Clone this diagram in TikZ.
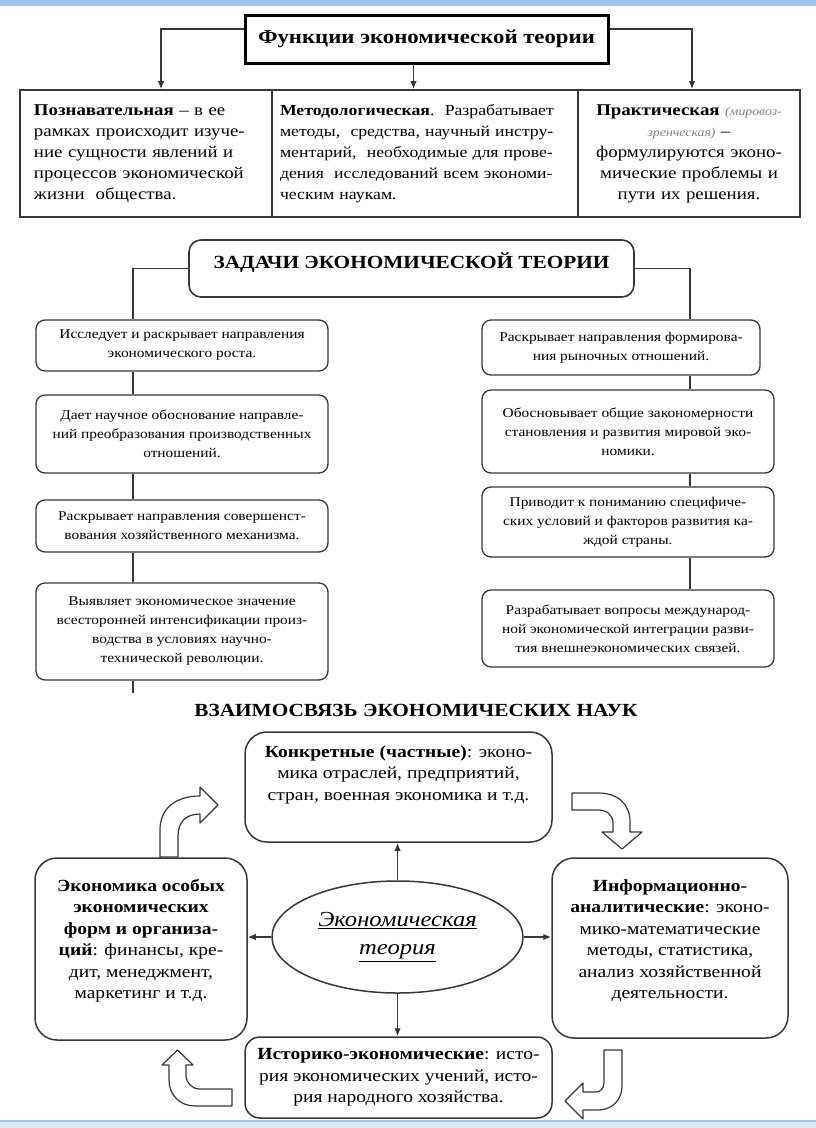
\documentclass[tikz,border=0pt]{standalone}
\usepackage{fontspec}
\setmainfont[FakeStretch=1.15]{Liberation Serif}
\usepackage{tikz}
\usetikzlibrary{shapes,arrows,arrows.meta,positioning,calc}
\definecolor{edgegray}{RGB}{55,55,55}
\definecolor{barblue}{RGB}{158,196,232}
\definecolor{barpale}{RGB}{222,232,243}
\newcommand{\funheadfont}{\fontsize{19.8}{22}\selectfont\bfseries}
\newcommand{\secheadfont}{\fontsize{18.5}{22}\selectfont\bfseries}
\newcommand{\cellfont}{\fontsize{16.4}{21}\selectfont}
\newcommand{\taskfont}{\fontsize{13.4}{19}\selectfont}
\newcommand{\linkfont}{\fontsize{17}{21.5}\selectfont}
\newcommand{\theoryfont}{\fontsize{21.4}{28}\selectfont\itshape}

\begin{document}
\begin{tikzpicture}[x=1pt,y=-1pt,>={Latex[length=8pt,width=6.5pt]},
  cell/.style={draw=edgegray,line width=1.6pt,minimum height=127pt,inner sep=0pt,font=\cellfont},
  task/.style={draw=edgegray,line width=1.3pt,rounded corners=9pt,inner sep=0pt,align=center,font=\taskfont},
  link/.style={draw=edgegray,line width=1.5pt,rounded corners=22pt,inner sep=0pt},
  linktext/.style={anchor=north,inner sep=0pt,align=center,font=\linkfont},
  conn/.style={edgegray,line width=1.4pt},
  blockarrow/.style={draw=edgegray,line width=1.2pt,fill=white,line join=round}]

\useasboundingbox (0,0) rectangle (816,1128);
% window frame
\fill[barblue] (0,0) rectangle (816,6);
\fill[barpale] (0,1121) rectangle (816,1128);
\draw[barblue,line width=1.5pt] (0,1121) -- (816,1121);

% functions of the theory
\node[draw=black,line width=3pt,minimum width=363pt,minimum height=48pt,font=\funheadfont] (fun) at (426.5,39) {Функции экономической теории};
\node[cell,minimum width=252pt,text width=224pt,align=left] (cog) at (146,153.5) {\textbf{Познавательная} – в ее\\рамках происходит изуче-\\ние сущности явлений и\\процессов экономической\\жизни~~общества.};
\node[cell,minimum width=306pt,text width=290pt,align=left,font=\fontsize{15.4}{21}\selectfont] (met) at (425,153.5) {\textbf{Методологическая}.~~Разрабатывает\\методы,~~средства, научный инстру-\\ментарий,~~необходимые для прове-\\дения~~исследований всем экономи-\\ческим наукам.};
\node[cell,minimum width=222pt,text width=206pt,align=center] (prac) at (689,153.5) {\textbf{Практическая} {\itshape\fontsize{12}{14}\selectfont\color{gray}(мировоз-}\\{\itshape\fontsize{12}{14}\selectfont\color{gray}зренческая)} –\\формулируются эконо-\\мические проблемы и\\пути их решения.};
\draw[conn,->] ([yshift=10pt]fun.west) -| ([xshift=15pt]cog.north);
\draw[conn,->] ([xshift=-13pt]fun.south) -- ([xshift=-13pt]fun.south |- met.north);
\draw[conn,->] ([yshift=10pt]fun.east) -| ([xshift=3pt]prac.north);

% tasks of the theory
\node[task,line width=1.6pt,rounded corners=12pt,minimum width=445pt,minimum height=57pt] (tasks) at (411.5,268.5) {};
\node[font=\secheadfont,inner sep=0pt] (taskstitle) at (411.5,263) {ЗАДАЧИ ЭКОНОМИЧЕСКОЙ ТЕОРИИ};
\coordinate (lx) at (133,0);
\coordinate (rx) at (690,0);
\node[task,minimum width=292pt,minimum height=51pt] (l1) at (182,345.5) {Исследует и раскрывает направления\\экономического роста.};
\node[task,minimum width=292pt,minimum height=78pt] (l2) at (182,434) {Дает научное обоснование направле-\\ний преобразования производственных\\отношений.};
\node[task,minimum width=292pt,minimum height=52pt] (l3) at (182,526) {Раскрывает направления совершенст-\\вования хозяйственного механизма.};
\node[task,minimum width=292pt,minimum height=97pt] (l4) at (182,631.5) {Выявляет экономическое значение\\всесторонней интенсификации произ-\\водства в условиях научно-\\технической революции.};
\node[task,minimum width=278pt,minimum height=55pt] (r1) at (621,347.5) {Раскрывает направления формирова-\\ния рыночных отношений.};
\node[task,minimum width=292pt,minimum height=83pt] (r2) at (628,431.5) {Обосновывает общие закономерности\\становления и развития мировой эко-\\номики.};
\node[task,minimum width=292pt,minimum height=70pt] (r3) at (628,522) {Приводит к пониманию специфиче-\\ских условий и факторов развития ка-\\ждой страны.};
\node[task,minimum width=292pt,minimum height=77pt] (r4) at (628,628.5) {Разрабатывает вопросы международ-\\ной экономической интеграции разви-\\тия внешнеэкономических связей.};
\draw[conn] (tasks.west) -| (lx |- l1.north);
\draw[conn] (tasks.east) -| (rx |- r1.north);
\foreach \a/\b/\c in {l1/l2/lx,l2/l3/lx,l3/l4/lx,r1/r2/rx,r2/r3/rx,r3/r4/rx}
  \draw[conn] (\c |- \a.south) -- (\c |- \b.north);
\coordinate (lend) at (133,693);
\draw[conn] (lx |- l4.south) -- (lend);

% links between the sciences
\node[font=\secheadfont,inner sep=0pt] (linkstitle) at (416,710) {ВЗАИМОСВЯЗЬ ЭКОНОМИЧЕСКИХ НАУК};
\node[link,minimum width=307pt,minimum height=110pt] (conc) at (398.5,787) {};
\node[linktext] (conctext) at (398.5,745) {\textbf{Конкретные (частные)}: эконо-\\мика отраслей, предприятий,\\стран, военная экономика и т.д.};
\node[link,minimum width=212pt,minimum height=182pt] (spec) at (141,949) {};
\node[linktext] (spectext) at (141,879) {\textbf{Экономика особых}\\\textbf{экономических}\\\textbf{форм и организа-}\\\textbf{ций}: финансы, кре-\\дит, менеджмент,\\маркетинг и т.д.};
\node[link,minimum width=236pt,minimum height=180pt] (info) at (670,948) {};
\node[linktext] (infotext) at (670,879) {\textbf{Информационно-}\\\textbf{аналитические}: эконо-\\мико-математические\\методы, статистика,\\анализ хозяйственной\\деятельности.};
\node[link,rounded corners=15pt,minimum width=307pt,minimum height=81pt,align=center,font=\linkfont] (hist) at (398.5,1077.5) {\textbf{Историко-экономические}: исто-\\рия экономических учений, исто-\\рия народного хозяйства.};
\node[draw=edgegray,line width=1.5pt,ellipse,minimum width=251pt,minimum height=112pt,inner sep=0pt,align=center,font=\theoryfont] (theory) at (397.5,937) {\underline{Экономическая}\\\underline{теория}};
\draw[conn,->] (theory.north) -- (theory.north |- conc.south);
\draw[conn,->] (theory.west) -- (theory.west -| spec.east);
\draw[conn,->] (theory.east) -- (theory.east -| info.west);
\draw[conn,->] (theory.south) -- (theory.south |- hist.north);

% hollow bent arrows of the cycle
\draw[blockarrow] (160,857) -- (160,830) .. controls (160,808) and (176,796) .. (200,796) -- (200,787) -- (218,805) -- (200,823) -- (200,814) .. controls (186,814) and (178,822) .. (178,836) -- (178,857) -- cycle;
\draw[blockarrow] (572,793) -- (598,793) .. controls (618,793) and (630,804) .. (630,822) -- (630,832) -- (642,832) -- (622,849) -- (602,832) -- (613,832) -- (613,823) .. controls (613,815) and (607,810) .. (598,810) -- (572,810) -- cycle;
\draw[blockarrow] (604,1050) -- (622,1050) -- (622,1086) .. controls (622,1100) and (612,1110) .. (598,1110) -- (583,1110) -- (583,1119) -- (565,1101) -- (583,1083) -- (583,1092) -- (596,1092) .. controls (601,1092) and (604,1088) .. (604,1082) -- cycle;
\draw[blockarrow] (232,1089) -- (200,1089) .. controls (192,1089) and (186,1083) .. (186,1075) -- (186,1065) -- (193,1065) -- (177.5,1050) -- (162,1065) -- (169,1065) -- (169,1080) .. controls (169,1095) and (180,1106) .. (195,1106) -- (232,1106) -- cycle;
\end{tikzpicture}
\end{document}
